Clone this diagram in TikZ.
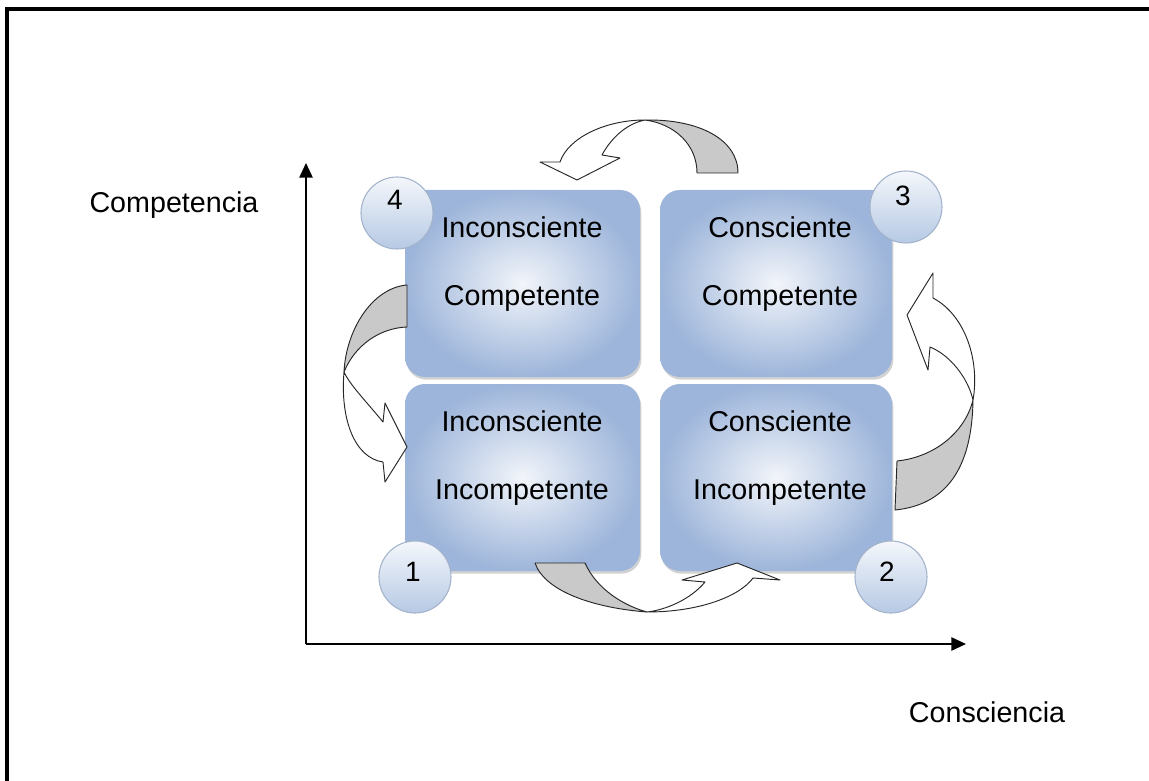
\documentclass[tikz,border=0pt]{standalone}
\usepackage{fontspec}
\setmainfont{Liberation Sans}
\usetikzlibrary{arrows.meta,shadows}
\definecolor{boxout}{HTML}{9DB5DA}
\definecolor{boxin}{HTML}{F2F5FA}
\definecolor{balltop}{HTML}{F4F7FB}
\definecolor{ballbot}{HTML}{B6C9E4}
\definecolor{ballrim}{HTML}{A3B3CB}
\definecolor{tailgray}{HTML}{C9C9C9}
\begin{document}
\begin{tikzpicture}[x=0.75pt,y=-0.75pt,
  quad/.style={rounded corners=15pt, inner color=boxin, outer color=boxout,
    draw=none, inner sep=0pt,
    drop shadow={shadow xshift=1pt, shadow yshift=-2pt, opacity=0.25, fill=black!70}},
  quadl/.style={quad, minimum width=176.25pt, minimum height=140.25pt},
  quadr/.style={quad, minimum width=174pt, minimum height=140.25pt},
  word/.style={font=\fontsize{21.5pt}{24pt}\selectfont, inner sep=0pt, anchor=center},
  ballc/.style={circle, minimum size=54pt, inner sep=0pt, top color=balltop,
    bottom color=ballbot, draw=ballrim, line width=0.8pt},
  num/.style={font=\fontsize{21pt}{24pt}\selectfont, inner sep=0pt},
  axis/.style={line width=1.2pt, -{Triangle[length=11pt,width=10pt]}},
  tail/.style={fill=tailgray, draw=black!85, line width=0.7pt, line join=round},
  body/.style={fill=white, draw=black!85, line width=0.7pt, line join=round}]
\useasboundingbox (0,0) rectangle (1149,781);
\fill[white] (0,0) rectangle (1149,781);
% frame
\draw[line width=2.3pt] (7,781) -- (7,9) -- (1149,9);
% axes
\coordinate (O) at (306,644);
\coordinate (Ytop) at (306,163);
\coordinate (Xend) at (966,644);
\draw[axis] (O) -- (Ytop);
\draw[axis] (O) -- (Xend);
\node[word] (ylab) at (174,205) {Competencia};
\node[word] (xlab) at (987,712) {Consciencia};
% quadrants
\node[quadl] (q4) at (522.5,283.5) {};
\node[quadr] (q3) at (776,283.5) {};
\node[quadl] (q1) at (522.5,477.5) {};
\node[quadr] (q2) at (776,477.5) {};
\node[word] (t4a) at (522,227) {Inconsciente};
\node[word] (t4b) at (522,298) {Competente};
\node[word] (t3a) at (780,227) {Consciente};
\node[word] (t3b) at (780,298) {Competente};
\node[word] (t1a) at (522,421) {Inconsciente};
\node[word] (t1b) at (522,493) {Incompetente};
\node[word] (t2a) at (780,421) {Consciente};
\node[word] (t2b) at (780,493) {Incompetente};
% curved arrows
% top: from quadrant 3 to quadrant 4
\path[tail] (697,173) -- (738,173) .. controls (738,140) and (700,119) .. (645,120)
  .. controls (675,124) and (697,145) .. (697,173) -- cycle;
\path[body] (645,120) .. controls (605,120) and (568,138) .. (560,162) -- (540,162)
  -- (577,180) -- (620,158) -- (602,155) .. controls (610,140) and (625,124) .. (645,120) -- cycle;
% left: from quadrant 4 to quadrant 1
\path[tail] (407,285) .. controls (372,288) and (346,330) .. (344,372)
  .. controls (355,345) and (380,328) .. (407,327) -- cycle;
\path[body] (344,372) .. controls (340,420) and (355,458) .. (383,462) -- (385,482)
  -- (407,447) -- (385,403) -- (383,422) .. controls (365,400) and (350,385) .. (344,372) -- cycle;
% bottom: from quadrant 1 to quadrant 2
\path[tail] (535,563) -- (585,563) .. controls (597,590) and (625,606) .. (647,612)
  .. controls (595,608) and (545,592) .. (535,563) -- cycle;
\path[body] (647,612) .. controls (700,612) and (740,596) .. (753,578) -- (780,580)
  -- (737,563) -- (682,580) -- (705,582) .. controls (690,600) and (665,610) .. (647,612) -- cycle;
% right: from quadrant 2 to quadrant 3
\path[tail] (897,461) .. controls (935,457) and (965,432) .. (973,400)
  .. controls (972,470) and (945,505) .. (895,510) -- cycle;
\path[body] (973,400) .. controls (980,360) and (965,315) .. (933,298) -- (933,273)
  -- (907,315) -- (928,370) -- (930,347) .. controls (950,355) and (968,378) .. (973,400) -- cycle;
% numbered balls
\node[ballc] (c4) at (397,213) {};
\node[ballc] (c3) at (906,207) {};
\node[ballc] (c1) at (415,577) {};
\node[ballc] (c2) at (891,577) {};
\node[num] (n4) at (395,200) {4};
\node[num] (n3) at (903,196) {3};
\node[num] (n1) at (413,572) {1};
\node[num] (n2) at (887,572) {2};
\end{tikzpicture}
\end{document}
